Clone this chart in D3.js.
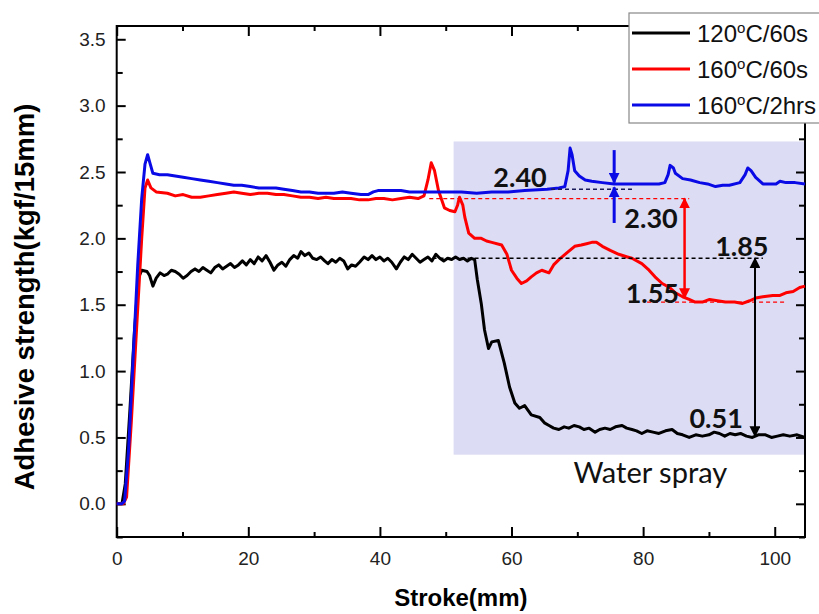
<!DOCTYPE html>
<html>
<head>
<meta charset="utf-8">
<script src="https://cdn.jsdelivr.net/npm/d3@7/dist/d3.min.js"></script>
<style>
  body { margin: 0; background: #fff; }
  svg { display: block; }
</style>
</head>
<body>
<svg id="chart" width="819" height="614"></svg>
<script>
// 数据: [stroke(mm), adhesive strength(kgf/15mm)]
const black120_60s = [
  [0, 0], [0.8, 0.0], [1.3, 0.15], [2.0, 0.7], [2.7, 1.3], [3.3, 1.7], [3.8, 1.76],
  [4.6, 1.75], [5.0, 1.72], [5.5, 1.64], [6.0, 1.70], [6.6, 1.74], [7.2, 1.72], [7.7, 1.73],
  [8.3, 1.76], [8.9, 1.75], [9.5, 1.73], [10.1, 1.70], [10.7, 1.72], [11.3, 1.75], [11.9, 1.77],
  [12.5, 1.75], [13.1, 1.78], [13.7, 1.76], [14.3, 1.74], [14.9, 1.78], [15.5, 1.80], [16.1, 1.77],
  [16.7, 1.79], [17.3, 1.81], [17.9, 1.78], [18.5, 1.80], [19.1, 1.83], [19.7, 1.80], [20.3, 1.84],
  [20.9, 1.81], [21.5, 1.86], [22.1, 1.83], [22.7, 1.87], [23.3, 1.82], [23.9, 1.76], [24.5, 1.80],
  [25.1, 1.82], [25.7, 1.79], [26.3, 1.84], [26.9, 1.87], [27.5, 1.85], [28.0, 1.90], [28.6, 1.87],
  [29.2, 1.89], [29.8, 1.85], [30.4, 1.84], [31.0, 1.86], [31.6, 1.83], [32.1, 1.81], [32.7, 1.84],
  [33.3, 1.82], [33.9, 1.85], [34.5, 1.83], [35.1, 1.77], [35.7, 1.80], [36.3, 1.79], [36.9, 1.82],
  [37.6, 1.86], [38.2, 1.84], [38.8, 1.87], [39.4, 1.84], [40.0, 1.86], [40.6, 1.83], [41.2, 1.85],
  [41.8, 1.82], [42.5, 1.77], [43.1, 1.82], [43.7, 1.86], [44.3, 1.84], [44.9, 1.88], [45.5, 1.85],
  [46.1, 1.82], [46.7, 1.84], [47.3, 1.86], [47.9, 1.83], [48.5, 1.88], [49.1, 1.85], [49.7, 1.83],
  [50.3, 1.85], [50.9, 1.84], [51.5, 1.86], [52.1, 1.84], [52.7, 1.85], [53.3, 1.83], [53.9, 1.85],
  [54.4, 1.84], [54.8, 1.69], [55.4, 1.51], [55.9, 1.31], [56.5, 1.17], [57.0, 1.22], [58.0, 1.23],
  [58.9, 1.06], [59.7, 0.88], [60.5, 0.76], [61.2, 0.72], [62.0, 0.74], [63.0, 0.67], [64.3, 0.65],
  [65.0, 0.61], [65.7, 0.59], [66.4, 0.57], [67.2, 0.56], [68.0, 0.58], [68.7, 0.57], [69.5, 0.59],
  [70.3, 0.58], [71.0, 0.56], [71.8, 0.57], [72.7, 0.54], [73.4, 0.56], [74.2, 0.57], [75.0, 0.56],
  [75.8, 0.58], [76.8, 0.59], [77.5, 0.57], [78.3, 0.56], [79.0, 0.55], [79.8, 0.53], [80.6, 0.55],
  [81.5, 0.54], [82.4, 0.53], [83.4, 0.55], [84.4, 0.56], [85.2, 0.53], [86.0, 0.52], [87.0, 0.50],
  [88.0, 0.52], [89.0, 0.51], [90.0, 0.52], [90.8, 0.54], [91.6, 0.53], [92.4, 0.51], [93.2, 0.53],
  [94.0, 0.52], [94.8, 0.53], [95.7, 0.51], [96.6, 0.50], [97.5, 0.52], [98.6, 0.52], [99.5, 0.50],
  [100.4, 0.51], [101.3, 0.52], [102.3, 0.51], [103.4, 0.52], [104.6, 0.50]
];

const red160_60s = [
  [0, 0], [1.0, 0.0], [1.5, 0.05], [2.2, 0.6], [3.0, 1.3], [3.8, 2.0], [4.3, 2.38], [4.7, 2.44],
  [5.2, 2.38], [6.0, 2.35], [7.7, 2.34], [8.9, 2.32], [10.1, 2.33], [11.4, 2.31], [12.7, 2.31],
  [14.0, 2.32], [15.3, 2.33], [16.6, 2.34], [17.8, 2.35], [19.0, 2.34], [20.3, 2.33], [21.6, 2.34],
  [22.9, 2.34], [24.2, 2.33], [25.4, 2.33], [26.7, 2.32], [28.0, 2.31], [29.3, 2.31], [30.6, 2.30],
  [31.8, 2.31], [33.0, 2.30], [34.3, 2.30], [35.6, 2.30], [36.9, 2.29], [38.2, 2.29], [39.4, 2.30],
  [40.6, 2.30], [41.9, 2.29], [43.2, 2.30], [44.5, 2.31], [45.8, 2.30], [46.7, 2.32], [47.3, 2.44],
  [47.8, 2.57], [48.3, 2.51], [48.9, 2.36], [49.8, 2.23], [50.6, 2.21], [51.4, 2.20], [51.8, 2.25],
  [52.1, 2.31], [52.6, 2.25], [52.9, 2.16], [53.5, 2.04], [54.4, 2.00], [55.4, 2.00], [56.2, 1.98],
  [57.0, 1.97], [58.5, 1.95], [59.3, 1.88], [60.0, 1.76], [60.8, 1.70], [61.5, 1.66], [62.3, 1.68],
  [63.0, 1.71], [63.8, 1.74], [64.6, 1.76], [65.7, 1.74], [66.4, 1.80], [67.2, 1.84], [68.4, 1.89],
  [69.6, 1.94], [70.6, 1.95], [71.4, 1.96], [72.2, 1.97], [72.9, 1.97], [73.8, 1.94], [75.0, 1.91],
  [76.3, 1.88], [77.6, 1.86], [78.3, 1.85], [79.8, 1.81], [80.9, 1.76], [81.8, 1.71], [82.9, 1.66],
  [84.0, 1.63], [84.9, 1.59], [86.0, 1.56], [87.0, 1.54], [87.9, 1.52], [89.0, 1.52], [90.1, 1.54],
  [91.3, 1.53], [92.5, 1.52], [93.9, 1.52], [95.1, 1.51], [96.2, 1.53], [97.1, 1.55], [98.2, 1.56],
  [99.7, 1.57], [100.8, 1.57], [101.7, 1.59], [102.8, 1.60], [103.8, 1.63], [104.6, 1.64]
];

const blue160_2hrs = [
  [0, 0], [0.8, 0.0], [1.2, 0.02], [1.8, 0.4], [2.5, 1.1], [3.2, 1.8], [3.8, 2.3], [4.3, 2.56],
  [4.7, 2.63], [5.1, 2.56], [5.5, 2.49], [6.5, 2.48], [7.7, 2.48], [8.9, 2.47], [10.1, 2.46],
  [11.4, 2.45], [12.7, 2.44], [14.0, 2.43], [15.3, 2.42], [16.6, 2.41], [17.8, 2.40], [19.0, 2.40],
  [20.3, 2.39], [21.6, 2.38], [22.9, 2.38], [24.2, 2.38], [25.4, 2.37], [26.7, 2.36], [28.0, 2.35],
  [29.3, 2.35], [30.6, 2.34], [31.8, 2.34], [33.0, 2.34], [34.3, 2.35], [35.6, 2.34], [37.1, 2.33],
  [38.2, 2.33], [39.0, 2.35], [39.7, 2.36], [41.7, 2.36], [43.2, 2.36], [44.5, 2.35], [45.8, 2.35],
  [48.3, 2.35], [50.4, 2.35], [52.4, 2.35], [54.7, 2.34], [57.0, 2.35], [59.5, 2.35], [62.0, 2.36],
  [65.4, 2.37], [67.2, 2.38], [68.1, 2.39], [68.6, 2.51], [68.9, 2.68], [69.2, 2.63], [69.6, 2.51],
  [70.3, 2.47], [71.2, 2.44], [72.2, 2.43], [73.8, 2.42], [75.6, 2.41], [77.3, 2.41], [79.8, 2.41],
  [82.4, 2.41], [83.3, 2.42], [83.8, 2.48], [84.1, 2.55], [84.6, 2.53], [84.9, 2.49], [86.0, 2.45],
  [87.2, 2.44], [88.6, 2.42], [89.8, 2.41], [91.0, 2.39], [92.1, 2.40], [93.1, 2.40], [94.7, 2.42],
  [95.5, 2.48], [95.9, 2.53], [96.4, 2.51], [97.1, 2.46], [98.2, 2.41], [100.2, 2.41], [100.8, 2.43],
  [101.7, 2.42], [103.1, 2.42], [104.6, 2.41]
];

const legendLabels = [["120", "C/60s"], ["160", "C/60s"], ["160", "C/2hrs"]];
const seriesColors = ["#000000", "#ff0000", "#0a0ae6"];

const xMajorTicks = [0, 20, 40, 60, 80, 100];
const xMinorTicks = [10, 30, 50, 70, 90];
const yMajorTicks = [0, 0.5, 1.0, 1.5, 2.0, 2.5, 3.0, 3.5];
const yMinorTicks = [-0.25, 0.25, 0.75, 1.25, 1.75, 2.25, 2.75, 3.25];

// 喷水区间
const sprayStroke = [51.2, 104.6];
const sprayStrength = [0.37, 2.73];

// 标注数值
const levelLabels = ["2.40", "2.30", "1.85", "1.55", "0.51"];

const svg = d3.select("#chart");
const plotLeft = 116.7, plotRight = 805, plotTop = 26, plotBottom = 537;

const x = d3.scaleLinear().domain([0, 104.6]).range([plotLeft, plotRight]);
const y = d3.scaleLinear().domain([-0.25, 3.6]).range([plotBottom, plotTop]);

// 喷水背景
svg.append("rect")
  .attr("x", x(sprayStroke[0]))
  .attr("y", y(sprayStrength[1]))
  .attr("width", x(sprayStroke[1]) - x(sprayStroke[0]))
  .attr("height", y(sprayStrength[0]) - y(sprayStrength[1]))
  .attr("fill", "#dcdcf4");

svg.append("text")
  .attr("x", x(81.1))
  .attr("y", y(0.16))
  .attr("text-anchor", "middle")
  .attr("font-family", "Lato, 'Open Sans', sans-serif")
  .attr("font-size", 29)
  .attr("fill", "#111")
  .text("Water spray");

// 坐标轴
const tickFont = "'Liberation Sans', Arial, sans-serif";

function styleAxis(g) {
  g.select(".domain").remove();
  g.selectAll(".tick line").attr("stroke", "#000").attr("stroke-width", 2);
  g.selectAll(".tick text").attr("font-family", tickFont).attr("font-size", 19).attr("fill", "#222");
}

svg.append("g").attr("transform", `translate(0,${plotBottom})`)
  .call(d3.axisBottom(x).tickValues(xMajorTicks).tickSize(-10).tickPadding(15).tickFormat(d3.format("d")))
  .call(styleAxis);
svg.append("g").attr("transform", `translate(0,${plotBottom})`)
  .call(d3.axisBottom(x).tickValues(xMinorTicks).tickSize(-5).tickFormat(""))
  .call(styleAxis);
svg.append("g").attr("transform", `translate(0,${plotTop})`)
  .call(d3.axisTop(x).tickValues(xMajorTicks).tickSize(-10).tickFormat(""))
  .call(styleAxis);
svg.append("g").attr("transform", `translate(0,${plotTop})`)
  .call(d3.axisTop(x).tickValues(xMinorTicks).tickSize(-5).tickFormat(""))
  .call(styleAxis);

svg.append("g").attr("transform", `translate(${plotLeft},0)`)
  .call(d3.axisLeft(y).tickValues(yMajorTicks).tickSize(-9).tickPadding(11).tickFormat(d3.format(".1f")))
  .call(styleAxis);
svg.append("g").attr("transform", `translate(${plotLeft},0)`)
  .call(d3.axisLeft(y).tickValues(yMinorTicks).tickSize(-6).tickFormat(""))
  .call(styleAxis);
svg.append("g").attr("transform", `translate(${plotRight},0)`)
  .call(d3.axisRight(y).tickValues(yMajorTicks).tickSize(-9).tickFormat(""))
  .call(styleAxis);
svg.append("g").attr("transform", `translate(${plotRight},0)`)
  .call(d3.axisRight(y).tickValues(yMinorTicks).tickSize(-6).tickFormat(""))
  .call(styleAxis);

// 边框
svg.append("rect")
  .attr("x", plotLeft).attr("y", plotTop)
  .attr("width", plotRight - plotLeft).attr("height", plotBottom - plotTop)
  .attr("fill", "none").attr("stroke", "#000").attr("stroke-width", 2);

// 曲线
const line = d3.line().x(d => x(d[0])).y(d => y(d[1]));
[black120_60s, red160_60s, blue160_2hrs].forEach((s, i) => {
  svg.append("path")
    .datum(s)
    .attr("d", line)
    .attr("fill", "none")
    .attr("stroke", seriesColors[i])
    .attr("stroke-width", 3)
    .attr("stroke-linejoin", "round");
});

// 箭头
const defs = svg.append("defs");
[["black", "#000"], ["red", "#ff0000"], ["blue", "#0a0ae6"]].forEach(([id, c]) => {
  defs.append("marker")
    .attr("id", "head-" + id)
    .attr("viewBox", "0 0 10 10")
    .attr("refX", 9).attr("refY", 5)
    .attr("markerWidth", 11).attr("markerHeight", 11)
    .attr("markerUnits", "userSpaceOnUse")
    .attr("orient", "auto-start-reverse")
    .append("path")
    .attr("d", "M0,0L10,5L0,10Z")
    .attr("fill", c);
});

function dashed(x0, x1, v, color) {
  svg.append("line")
    .attr("x1", x(x0)).attr("x2", x(x1))
    .attr("y1", y(v)).attr("y2", y(v))
    .attr("stroke", color).attr("stroke-width", 1.3)
    .attr("stroke-dasharray", "4,3");
}

function arrow(xv, v0, v1, id, color, w, both) {
  svg.append("line")
    .attr("x1", x(xv)).attr("x2", x(xv))
    .attr("y1", y(v0)).attr("y2", y(v1))
    .attr("stroke", color).attr("stroke-width", w)
    .attr("marker-end", `url(#head-${id})`)
    .attr("marker-start", both ? `url(#head-${id})` : null);
}

dashed(66, 78.6, 2.37, "#1a1a5a");
dashed(47.5, 87.0, 2.30, "#ff0000");
dashed(48, 98.2, 1.85, "#000");
dashed(80.6, 101.6, 1.52, "#ff0000");

arrow(75.6, 2.665, 2.42, "blue", "#0a0ae6", 3, false);
arrow(75.6, 2.116, 2.385, "blue", "#0a0ae6", 3, false);
arrow(86.3, 2.30, 1.55, "red", "#ff0000", 2.5, true);
arrow(97.0, 1.85, 0.51, "black", "#000", 2, true);

// 数值标注
const labelPos = [[61.3, 2.39], [81.2, 2.08], [95.0, 1.87], [81.4, 1.51], [91.1, 0.57]];
labelPos.forEach((p, i) => {
  svg.append("text")
    .attr("x", x(p[0])).attr("y", y(p[1]))
    .attr("text-anchor", "middle")
    .attr("font-family", "Lato, 'Open Sans', sans-serif")
    .attr("font-weight", "bold")
    .attr("font-size", 27)
    .attr("fill", "#111")
    .text(levelLabels[i]);
});

// 轴标题
svg.append("text")
  .attr("x", (plotLeft + plotRight) / 2).attr("y", 606)
  .attr("text-anchor", "middle")
  .attr("font-family", tickFont).attr("font-weight", "bold").attr("font-size", 24)
  .text("Stroke(mm)");

svg.append("text")
  .attr("transform", `translate(34,297) rotate(-90)`)
  .attr("text-anchor", "middle")
  .attr("font-family", tickFont).attr("font-weight", "bold").attr("font-size", 27.5)
  .text("Adhesive strength(kgf/15mm)");

// 图例
const legend = svg.append("g");
legend.append("rect")
  .attr("x", 629).attr("y", 13).attr("width", 200).attr("height", 110)
  .attr("fill", "#fff").attr("stroke", "#888").attr("stroke-width", 1.2);
legendLabels.forEach((lab, i) => {
  const ly = 33 + i * 36;
  legend.append("line")
    .attr("x1", 632).attr("x2", 690).attr("y1", ly).attr("y2", ly)
    .attr("stroke", seriesColors[i]).attr("stroke-width", 3);
  const t = legend.append("text")
    .attr("x", 697).attr("y", ly + 9)
    .attr("font-family", tickFont).attr("font-size", 24).attr("fill", "#111");
  t.append("tspan").text(lab[0]);
  t.append("tspan").attr("dy", -9).attr("font-size", 15).text("o");
  t.append("tspan").attr("dy", 9).text(lab[1]);
});
</script>
</body>
</html>
